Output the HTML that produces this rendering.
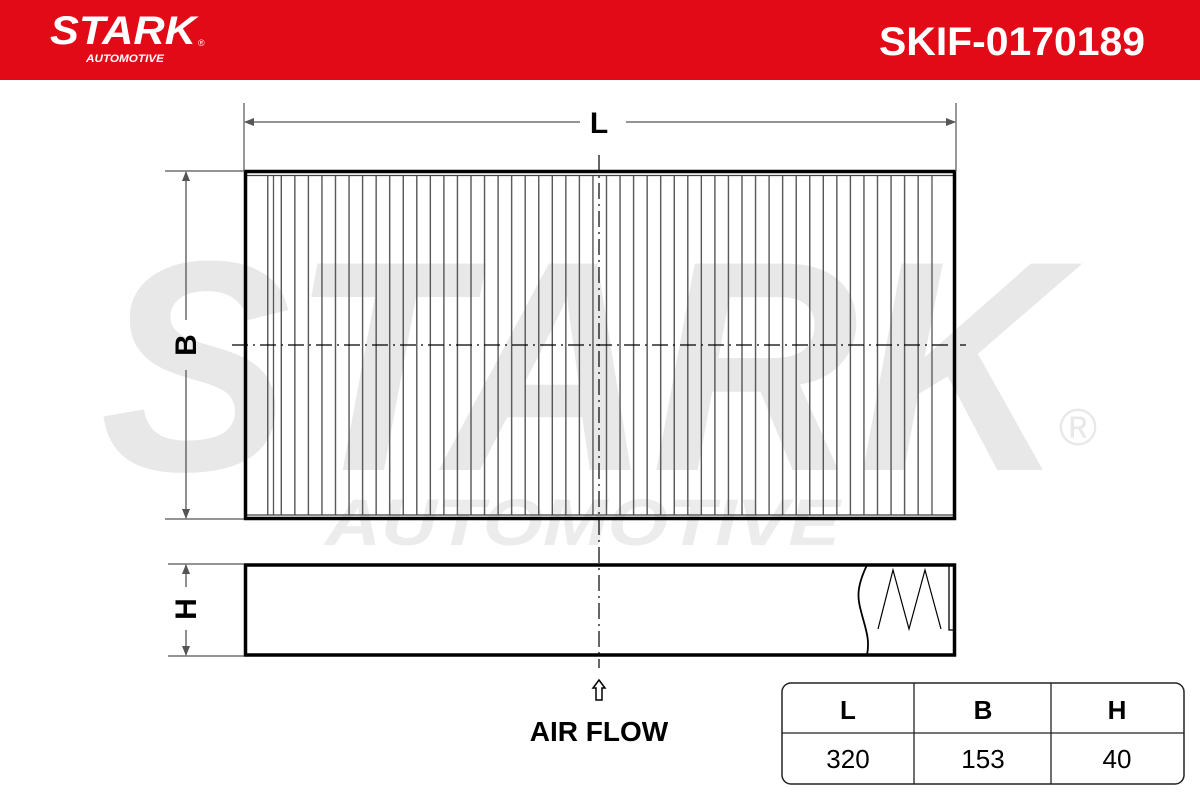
<!DOCTYPE html>
<html><head><meta charset="utf-8"><style>
html,body{margin:0;padding:0;background:#fff;}
svg{display:block;}
text{font-family:"Liberation Sans",sans-serif;}
</style></head><body>
<svg width="1200" height="800" viewBox="0 0 1200 800" xmlns="http://www.w3.org/2000/svg">
<defs>
<pattern id="pl" x="267" y="0" width="13.55" height="800" patternUnits="userSpaceOnUse">
<line x1="0.75" y1="0" x2="0.75" y2="800" stroke="#555" stroke-width="1.4"/>
</pattern>
<marker id="ar" markerWidth="10" markerHeight="8" refX="9" refY="4" orient="auto" markerUnits="userSpaceOnUse"><path d="M0,0 L10,4 L0,8 Z" fill="#555"/></marker>
</defs>
<rect x="0" y="0" width="1200" height="80" fill="#e20a17"/>
<text x="50" y="44" font-size="40" font-weight="bold" font-style="italic" fill="#fff" textLength="146" lengthAdjust="spacingAndGlyphs">STARK</text>
<text x="198" y="46" font-size="9" fill="#fff">®</text>
<text x="86" y="62" font-size="11" font-weight="bold" font-style="italic" fill="#fff" textLength="78" lengthAdjust="spacingAndGlyphs">AUTOMOTIVE</text>
<text x="1145" y="55" font-size="40" fill="#fff" text-anchor="end" textLength="266" lengthAdjust="spacingAndGlyphs" font-weight="bold">SKIF-0170189</text>

<!-- watermark -->
<text x="100" y="470" font-size="300" font-weight="bold" font-style="italic" fill="#e8e8e8" textLength="965" lengthAdjust="spacingAndGlyphs">STARK</text>
<text x="1078" y="445" font-size="52" fill="#e8e8e8" text-anchor="middle">®</text>
<text x="325" y="545" font-size="66" font-weight="bold" font-style="italic" fill="#ececec" textLength="515" lengthAdjust="spacingAndGlyphs">AUTOMOTIVE</text>

<!-- main filter -->
<rect x="267" y="175" width="664" height="340" fill="url(#pl)"/>
<line x1="273.5" y1="175" x2="273.5" y2="515" stroke="#555" stroke-width="1.3"/>
<line x1="932" y1="175" x2="932" y2="515" stroke="#555" stroke-width="1.3"/>
<line x1="246" y1="175.5" x2="954" y2="175.5" stroke="#444" stroke-width="1.2"/>
<line x1="246" y1="515" x2="954" y2="515" stroke="#444" stroke-width="1.2"/>
<rect x="245.5" y="171.5" width="709" height="347" fill="none" stroke="#000" stroke-width="3.5"/>

<!-- side view -->
<rect x="245.5" y="565" width="709" height="90" fill="none" stroke="#000" stroke-width="3.5"/>
<path d="M867,565 C855,590 858,600 862,615 C866,630 870,640 867,655" fill="none" stroke="#000" stroke-width="1.8"/>
<path d="M878,629 L893,570 L909,629 L925,570 L941,629" fill="none" stroke="#000" stroke-width="1.2"/>
<path d="M949,566 L949,630 L955,630" fill="none" stroke="#000" stroke-width="1.3"/>

<!-- centerlines -->
<line x1="599" y1="155" x2="599" y2="668" stroke="#000" stroke-width="1.2" stroke-dasharray="16 5 2 5"/>
<line x1="232" y1="345" x2="966" y2="345" stroke="#000" stroke-width="1.2" stroke-dasharray="16 5 2 5"/>

<!-- L dimension -->
<line x1="244" y1="103" x2="244" y2="171" stroke="#555" stroke-width="1.2"/>
<line x1="956" y1="103" x2="956" y2="171" stroke="#555" stroke-width="1.2"/>
<line x1="580" y1="122" x2="245" y2="122" stroke="#555" stroke-width="1.3" marker-end="url(#ar)"/>
<line x1="626" y1="122" x2="955" y2="122" stroke="#555" stroke-width="1.3" marker-end="url(#ar)"/>
<text x="599" y="133" font-size="30" font-weight="bold" text-anchor="middle">L</text>

<!-- B dimension -->
<line x1="165" y1="171" x2="244" y2="171" stroke="#555" stroke-width="1.2"/>
<line x1="165" y1="519" x2="244" y2="519" stroke="#555" stroke-width="1.2"/>
<line x1="186" y1="320" x2="186" y2="172" stroke="#555" stroke-width="1.3" marker-end="url(#ar)"/>
<line x1="186" y1="370" x2="186" y2="518" stroke="#555" stroke-width="1.3" marker-end="url(#ar)"/>
<text x="0" y="0" font-size="30" font-weight="bold" text-anchor="middle" transform="translate(196,345) rotate(-90)">B</text>

<!-- H dimension -->
<line x1="168" y1="564" x2="244" y2="564" stroke="#555" stroke-width="1.2"/>
<line x1="168" y1="656" x2="244" y2="656" stroke="#555" stroke-width="1.2"/>
<line x1="186" y1="587" x2="186" y2="565" stroke="#555" stroke-width="1.3" marker-end="url(#ar)"/>
<line x1="186" y1="630" x2="186" y2="655" stroke="#555" stroke-width="1.3" marker-end="url(#ar)"/>
<text x="0" y="0" font-size="30" font-weight="bold" text-anchor="middle" transform="translate(196,609) rotate(-90)">H</text>

<!-- airflow -->
<path d="M599,680 L605,688 L602,688 L602,700 L596,700 L596,688 L593,688 Z" fill="#fff" stroke="#000" stroke-width="1.5"/>
<text x="599" y="741" font-size="28" font-weight="bold" text-anchor="middle">AIR FLOW</text>

<!-- table -->
<rect x="782" y="683" width="402" height="101" rx="9" fill="none" stroke="#222" stroke-width="1.5"/>
<line x1="782" y1="733" x2="1184" y2="733" stroke="#222" stroke-width="1.3"/>
<line x1="914" y1="683" x2="914" y2="784" stroke="#222" stroke-width="1.3"/>
<line x1="1051" y1="683" x2="1051" y2="784" stroke="#222" stroke-width="1.3"/>
<g font-size="26" font-weight="bold" text-anchor="middle">
<text x="848" y="719">L</text><text x="983" y="719">B</text><text x="1117" y="719">H</text>
</g>
<g font-size="26" text-anchor="middle">
<text x="848" y="768">320</text><text x="983" y="768">153</text><text x="1117" y="768">40</text>
</g>
</svg>
</body></html>
